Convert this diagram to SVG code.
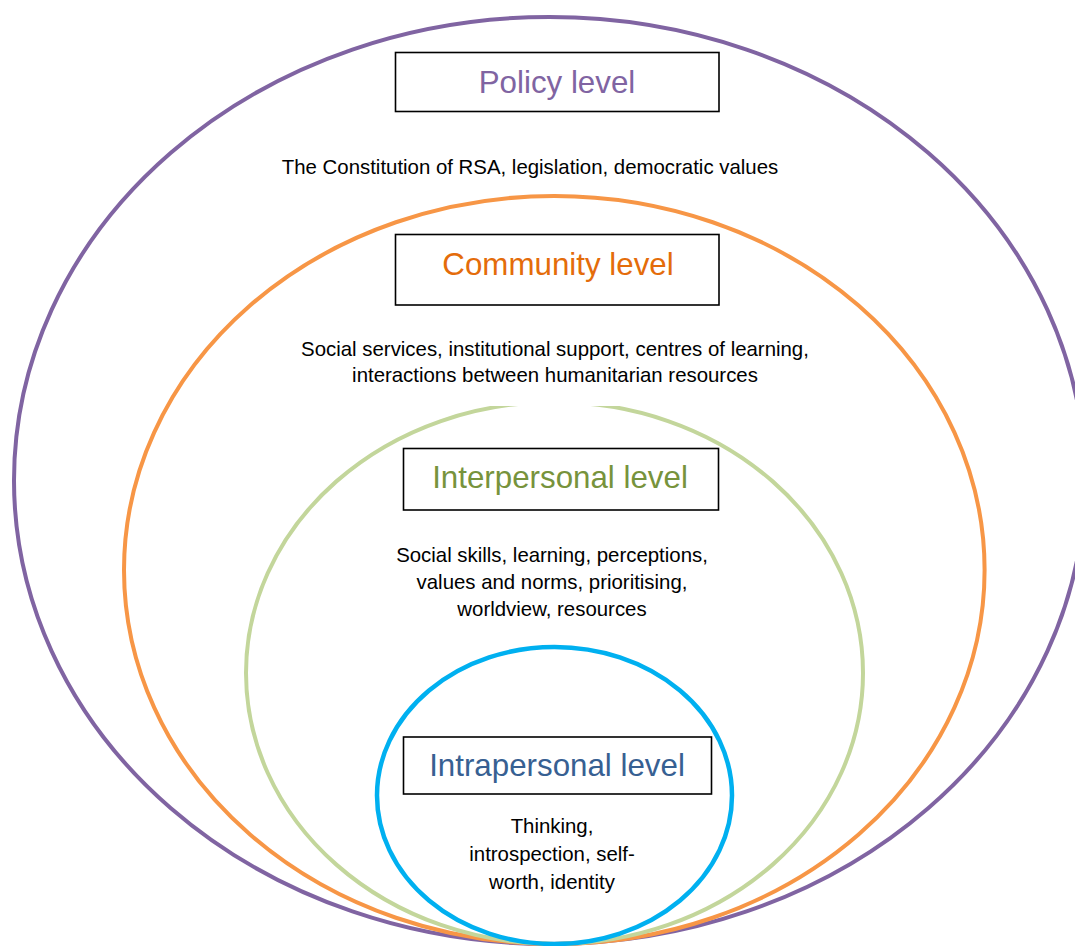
<svg xmlns="http://www.w3.org/2000/svg" width="1075" height="946" viewBox="0 0 1075 946">
  <style>
    .ring { fill: none; }
    .box { fill: #ffffff; stroke: #000000; stroke-width: 1.6; }
    .title { font-family: "Liberation Sans", Arial, sans-serif; font-size: 31.3px; text-anchor: middle; }
    .desc { font-family: "Liberation Sans", Arial, sans-serif; font-size: 20.4px; fill: #000000; text-anchor: middle; }
  </style>
  <rect x="0" y="0" width="1075" height="946" fill="#ffffff"/>

  <!-- nested rings, outermost first so inner rings sit on top where they meet at the bottom -->
  <g id="rings">
    <ellipse class="ring" cx="549.5" cy="480.5" rx="535.5" ry="463.5" stroke="#8064A2" stroke-width="4"/>
    <ellipse class="ring" cx="554.3" cy="570" rx="430.3" ry="374" stroke="#F79646" stroke-width="4"/>
    <ellipse class="ring" cx="554.5" cy="673" rx="308.5" ry="271" stroke="#C3D69B" stroke-width="4"/>
    <ellipse class="ring" cx="554.5" cy="795.5" rx="177.5" ry="148.5" stroke="#00B0F0" stroke-width="4.5"/>
  </g>

  <g id="policy-level">
    <rect class="box" x="395.5" y="52.5" width="323.5" height="59"/>
    <text class="title" x="557" y="93" fill="#8064A2">Policy level</text>
    <text class="desc" x="530" y="174">The Constitution of RSA, legislation, democratic values</text>
  </g>

  <g id="community-level">
    <rect class="box" x="395.5" y="234.5" width="323.5" height="70.5"/>
    <text class="title" x="558" y="275" fill="#E46C0A">Community level</text>
    <!-- white text panel; its lower edge clips the top of the inner green ring -->
    <rect x="300" y="334" width="510" height="72" fill="#ffffff"/>
    <text class="desc" x="555" y="356">Social services, institutional support, centres of learning,</text>
    <text class="desc" x="555" y="382">interactions between humanitarian resources</text>
  </g>

  <g id="interpersonal-level">
    <rect class="box" x="403.5" y="448.5" width="315" height="61.5"/>
    <text class="title" x="560" y="488" fill="#77933C">Interpersonal level</text>
    <text class="desc" x="552" y="562">Social skills, learning, perceptions,</text>
    <text class="desc" x="552" y="589">values and norms, prioritising,</text>
    <text class="desc" x="552" y="616">worldview, resources</text>
  </g>

  <g id="intrapersonal-level">
    <rect class="box" x="403.5" y="737" width="308" height="57"/>
    <text class="title" x="557" y="776" fill="#376092">Intrapersonal level</text>
    <text class="desc" x="552" y="833">Thinking,</text>
    <text class="desc" x="552" y="861">introspection, self-</text>
    <text class="desc" x="552" y="889">worth, identity</text>
  </g>
</svg>
